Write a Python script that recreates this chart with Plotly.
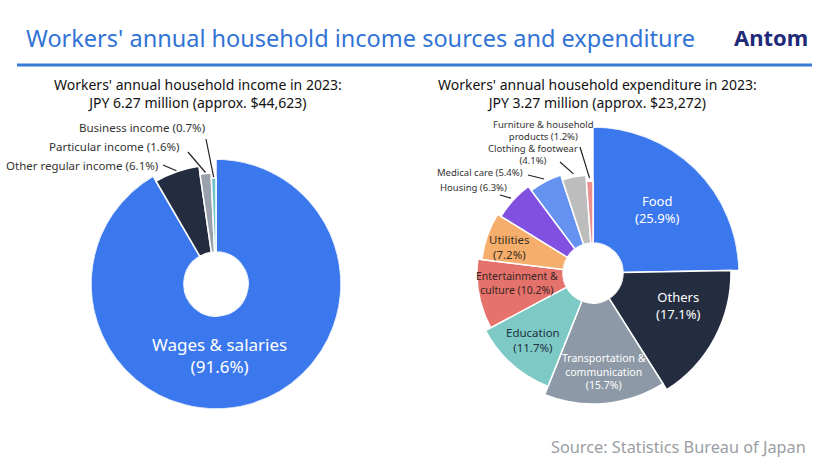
import math
import plotly.graph_objects as go

W, H = 830, 470

# ---------------- data ----------------
income_labels = ["Wages & salaries", "Other regular income", "Particular income", "Business income"]
income_values = [91.6, 6.1, 1.6, 0.7]

expenditure_labels = ["Food", "Others", "Transportation & communication", "Education",
                      "Entertainment & culture", "Utilities", "Housing", "Medical care",
                      "Clothing & footwear", "Furniture & household products"]
expenditure_values = [25.9, 17.1, 15.7, 11.7, 10.2, 7.2, 6.3, 5.4, 4.1, 1.2]

title_text = "Workers' annual household income sources and expenditure"
income_subtitle = ["Workers' annual household income in 2023:", "JPY 6.27 million (approx. $44,623)"]
expenditure_subtitle = ["Workers' annual household expenditure in 2023:", "JPY 3.27 million (approx. $23,272)"]
source_text = "Source: Statistics Bureau of Japan"
brand_text = "Antom"

# ---------------- style ----------------
FONT = "Noto Sans"
income_colors = ["#3B78EE", "#232D3F", "#99A2AC", "#72C3C9"]
expenditure_colors = ["#3B78EE", "#232D3F", "#8D99A6", "#7CC9C5", "#E5736C",
                      "#F5AE6B", "#8150E0", "#6592F0", "#BDBDBD", "#EC8F8F"]
income_radius = [125, 119, 111, 106]          # outer radius (px) per slice
expenditure_radius = [146, 138, 131, 122, 116, 112, 108, 103, 98, 92]

LEFT = dict(cx=216, cy=284, hole=32, rmax=125)
RIGHT = dict(cx=593, cy=273, hole=30, rmax=146)

fig = go.Figure()


def slice_angles(values):
    total = sum(values)
    widths = [v / total * 360.0 for v in values]
    mids, acc = [], 0.0
    for w in widths:
        mids.append(acc + w / 2)
        acc += w
    return widths, mids


def add_donut(geo, values, colors, radii, name):
    widths, mids = slice_angles(values)
    fig.add_trace(go.Barpolar(
        theta=mids, width=widths, r=[rr - geo["hole"] for rr in radii],
        marker=dict(color=colors, line=dict(color="white", width=1.5)),
        subplot=name, hoverinfo="skip", showlegend=False))
    cx, cy, R = geo["cx"], geo["cy"], geo["rmax"]
    fig.update_layout({name: dict(
        domain=dict(x=[(cx - R) / W, (cx + R) / W], y=[1 - (cy + R) / H, 1 - (cy - R) / H]),
        hole=geo["hole"] / R, bgcolor="rgba(0,0,0,0)", bargap=0,
        radialaxis=dict(range=[0, R - geo["hole"]], visible=False),
        angularaxis=dict(visible=False, rotation=90, direction="clockwise"))})
    return mids


def polar_px(geo, angle, r):
    a = math.radians(angle)
    return geo["cx"] + r * math.sin(a), geo["cy"] - r * math.cos(a)


def text(x, y, s, size, color, xanchor="center", align="center"):
    fig.add_annotation(x=x / W, y=1 - y / H, xref="paper", yref="paper", text=s,
                       showarrow=False, xanchor=xanchor, yanchor="middle", align=align,
                       font=dict(family=FONT, size=size, color=color), borderpad=0)


def block(x, yc, parts, size, color, xanchor="center"):
    text(x, yc, "<br>".join(parts), size, color, xanchor)


def leader(x0, y0, x1, y1):
    fig.add_shape(type="line", xref="paper", yref="paper",
                  x0=x0 / W, y0=1 - y0 / H, x1=x1 / W, y1=1 - y1 / H,
                  line=dict(color="#222222", width=1.2))


inc_mids = add_donut(LEFT, income_values, income_colors, income_radius, "polar")
exp_mids = add_donut(RIGHT, expenditure_values, expenditure_colors, expenditure_radius, "polar2")

# ---------------- header ----------------
text(25, 38, title_text, 23.5, "#3273D6", xanchor="left")
text(771, 37, "<b>" + brand_text + "</b>", 22, "#1F2A78")
fig.add_shape(type="line", xref="paper", yref="paper", x0=17 / W, x1=812 / W,
              y0=1 - 65 / H, y1=1 - 65 / H, line=dict(color="#3A7BD5", width=3))
block(197.5, 93.5, income_subtitle, 14, "#111111")
block(597.5, 93.5, expenditure_subtitle, 14, "#111111")

# ---------------- left labels ----------------
pct = lambda lab, v: f"{lab} ({v}%)"
block(219, 355, [income_labels[0], f"({income_values[0]}%)"], 17, "white")
out_left = [  # label index, text right end x, y, leader start
    (1, 159, 165, (163, 165)),
    (2, 181, 147, (188, 152)),
    (3, 206, 128, (206, 139)),
]
for i, xr, y, (sx, sy) in out_left:
    text(xr, y, pct(income_labels[i], income_values[i]), 11.5, "#333333", xanchor="right")
    ex, ey = polar_px(LEFT, inc_mids[i], income_radius[i] + 1)
    leader(sx, sy, ex, ey)

# ---------------- right labels ----------------
ev = expenditure_values
block(657, 209.5, ["Food", f"({ev[0]}%)"], 13, "white")
block(678, 305, ["Others", f"({ev[1]}%)"], 13, "white")
block(604, 371, ["Transportation &", "communication", f"({ev[2]}%)"], 10.5, "white")
block(533, 339.5, ["Education", f"({ev[3]}%)"], 11.5, "#22313D")
block(517, 282.5, ["Entertainment &", f"culture ({ev[4]}%)"], 10.5, "#3A2424")
block(509, 246.5, ["Utilities", f"({ev[5]}%)"], 11.5, "#3A2E22")

out_right = [  # index, x center, center y, parts, leader start
    (6, 473, 187, [pct(expenditure_labels[6], ev[6])], (500, 195)),
    (7, 480, 172, [pct(expenditure_labels[7], ev[7])], (528, 175)),
    (8, 532.5, 154.5, ["Clothing & footwear", f"({ev[8]}%)"], (560, 162)),
    (9, 543.5, 130, ["Furniture & household", f"products ({ev[9]}%)"], (580, 147)),
]
for i, x, y, parts, (sx, sy) in out_right:
    block(x, y, parts, 9.5, "#333333")
    ex, ey = polar_px(RIGHT, exp_mids[i], expenditure_radius[i] + 3)
    leader(sx, sy, ex, ey)

# ---------------- source ----------------
text(807, 447, source_text, 16.3, "#9A9EA3", xanchor="right")

fig.update_layout(width=W, height=H, autosize=False,
                  margin=dict(l=0, r=0, t=0, b=0),
                  paper_bgcolor="white", plot_bgcolor="white",
                  font=dict(family=FONT))

fig.write_html("out.html", config={"displayModeBar": False},
               post_script="document.body.style.margin='0';")
